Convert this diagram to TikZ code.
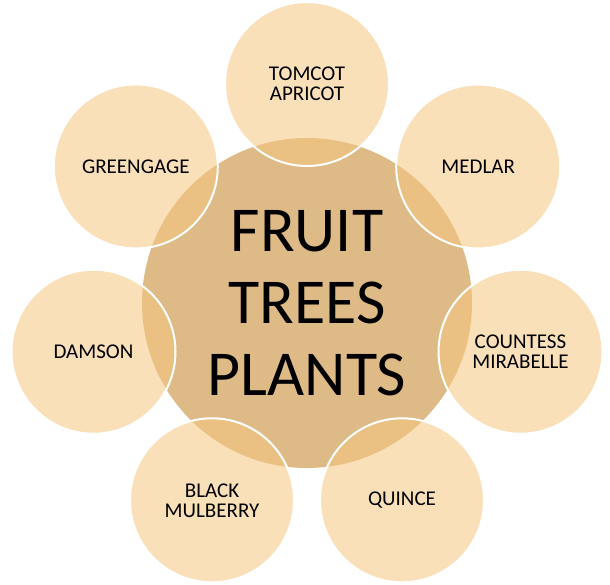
\documentclass[tikz,border=0pt]{standalone}
\usepackage{fontspec}
\setmainfont{Carlito}
\usetikzlibrary{positioning}
\definecolor{hubfill}{RGB}{222,186,134}
\definecolor{petalfill}{RGB}{244,199,128}
\tikzset{
  hub/.style={circle, fill=hubfill, minimum size=330pt, inner sep=0pt,
              align=center, font=\fontsize{64}{72}\selectfont},
  petal/.style={circle, draw=white, line width=2pt, fill=petalfill,
                fill opacity=0.55, text opacity=1, minimum size=164pt,
                inner sep=0pt, align=center, font=\fontsize{21}{20}\selectfont},
}
\begin{document}
\begin{tikzpicture}[x=1pt,y=-1pt]
  \useasboundingbox (0,0) rectangle (610,585);
  \node[hub] (hub) at (307,303) {FRUIT\\TREES\\PLANTS};
  % seven petals round the hub
  \foreach \name/\ang/\txt in {apricot/90/{TOMCOT\\APRICOT}, medlar/38.57/{MEDLAR},
      mirabelle/-12.86/{COUNTESS\\MIRABELLE}, quince/-64.29/{QUINCE},
      mulberry/-115.71/{BLACK\\MULBERRY}, damson/192.86/{DAMSON},
      greengage/141.43/{GREENGAGE}}
    \node[petal] (\name) at ([shift={(\ang:219pt)}]hub.center) {\txt};
\end{tikzpicture}
\end{document}
